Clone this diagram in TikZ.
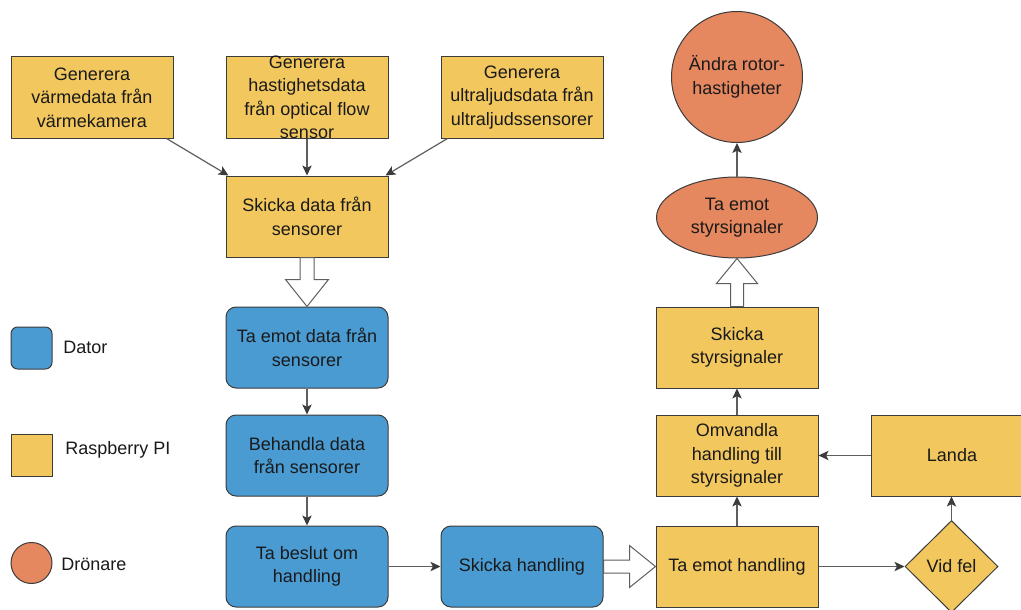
\documentclass[tikz,border=0pt]{standalone}
\usepackage{fontspec}
\setmainfont{Liberation Sans}
\usetikzlibrary{shapes.geometric,arrows.meta,calc}
\definecolor{yel}{HTML}{F2C75E}
\definecolor{blu}{HTML}{4A9BD2}
\definecolor{ora}{HTML}{E5875F}
\definecolor{edge}{HTML}{3C3C3C}
\definecolor{wire}{HTML}{5E5E5E}
\definecolor{ink}{HTML}{1A1A1A}

\begin{document}
\begin{tikzpicture}[x=0.75pt,y=-0.75pt,
  every node/.style={font=\fontsize{13.5pt}{17.6pt}\selectfont, text=ink},
  box/.style={draw=edge, line width=0.75pt, minimum width=121.5pt,
    minimum height=60.75pt, inner sep=0pt, align=center},
  ybox/.style={box, fill=yel},
  bbox/.style={box, fill=blu, rounded corners=7.5pt},
  obox/.style={draw=edge, line width=0.75pt, fill=ora, inner sep=0pt, align=center},
  flow/.style={draw=wire, line width=0.9pt,
    -{Stealth[length=7.5pt,width=7pt,inset=1.8pt,color=edge]}},
  hollow/.style={draw=wire, fill=white, line width=0.75pt, line join=miter},
  legtext/.style={anchor=west, inner sep=0pt}
]
\useasboundingbox (0,0) rectangle (1021,610);
\fill[white] (0,0) rectangle (1021,610);

% sensor sources
\node[ybox] (g1) at (92,97.5) {Generera\\värmedata från\\värmekamera};
\node[ybox] (g2) at (307,97.5) {};
\node[align=center, inner sep=0pt] (g2t) at (g2.center) {Generera\\hastighetsdata\\från optical flow\\sensor};
\node[ybox] (g3) at (522,97.5) {Generera\\ultraljudsdata från\\ultraljudssensorer};
\node[ybox] (sk) at (307,216.5) {Skicka data från\\sensorer};

% computer side
\node[bbox] (te) at (307,347.5) {Ta emot data från\\sensorer};
\node[bbox] (bh) at (307,455.5) {Behandla data\\från sensorer};
\node[bbox] (tb) at (307,566.5) {Ta beslut om\\handling};
\node[bbox] (sh) at (522,566.5) {Skicka handling};

% raspberry pi side
\node[ybox] (tr) at (737,566.5) {Ta emot handling};
\node[ybox] (om) at (737,455.5) {Omvandla\\handling till\\styrsignaler};
\node[ybox] (ss) at (737,347.5) {Skicka\\styrsignaler};
\node[ybox] (la) at (952,455.5) {Landa};
\node[draw=edge, line width=0.75pt, fill=yel, diamond, inner sep=0pt,
  minimum width=69.75pt, minimum height=69pt] (vf) at (951.5,566.5) {Vid fel};

% drone side
\node[obox, ellipse, minimum width=120.75pt, minimum height=60.75pt] (el) at (737,217.5) {Ta emot\\styrsignaler};
\node[obox, circle, minimum size=98.25pt] (ci) at (737,77) {Ändra rotor-\\hastigheter};

% legend
\node[draw=edge, line width=0.75pt, fill=blu, rounded corners=5pt,
  minimum width=30.75pt, minimum height=31.5pt, inner sep=0pt] (lb) at (31.5,348) {};
\node[legtext] (lbt) at (63,347) {Dator};
\node[draw=edge, line width=0.75pt, fill=yel,
  minimum width=30.75pt, minimum height=31.5pt, inner sep=0pt] (ly) at (31.5,455.5) {};
\node[legtext] (lyt) at (65,450) {Raspberry PI};
\node[draw=edge, line width=0.75pt, fill=ora, circle,
  minimum size=30.75pt, inner sep=0pt] (lo) at (31.5,563) {};
\node[legtext] (lot) at (61,564) {Drönare};

% connectors
\draw[flow] ($(g1.south east)+(-7,0)$) -- ($(sk.north west)+(3,0)$);
\draw[flow] (g2.south) -- (sk.north);
\draw[flow] ($(g3.south west)+(7,0)$) -- ($(sk.north east)+(-3,0)$);
\draw[flow] (te.south) -- (bh.north);
\draw[flow] (bh.south) -- (tb.north);
\draw[flow] (tb.east) -- (sh.west);
\draw[flow] (tr.north) -- (om.south);
\draw[flow] (om.north) -- (ss.south);
\draw[flow] (tr.east) -- (vf.west);
\draw[flow] (vf.north) -- (vf.north |- la.south);
\draw[flow] (la.west) -- (om.east);
\draw[flow] (el.north) -- (ci.south);

% block arrows
\draw[hollow] ($(sk.south)+(-7,0)$) -- ($(te.north)+(-7,-27)$) -- ($(te.north)+(-21.5,-27)$)
  -- (te.north) -- ($(te.north)+(21.5,-27)$) -- ($(te.north)+(7,-27)$) -- ($(sk.south)+(7,0)$) -- cycle;
\draw[hollow] ($(sh.east)+(0,-6.5)$) -- ($(tr.west)+(-26,-6.5)$) -- ($(tr.west)+(-26,-21)$)
  -- (tr.west) -- ($(tr.west)+(-26,21)$) -- ($(tr.west)+(-26,6.5)$) -- ($(sh.east)+(0,6.5)$) -- cycle;
\draw[hollow] ($(ss.north)+(-6.5,0)$) -- ($(el.south)+(-6.5,25)$) -- ($(el.south)+(-20.5,25)$)
  -- (el.south) -- ($(el.south)+(20.5,25)$) -- ($(el.south)+(6.5,25)$) -- ($(ss.north)+(6.5,0)$) -- cycle;
\end{tikzpicture}
\end{document}
